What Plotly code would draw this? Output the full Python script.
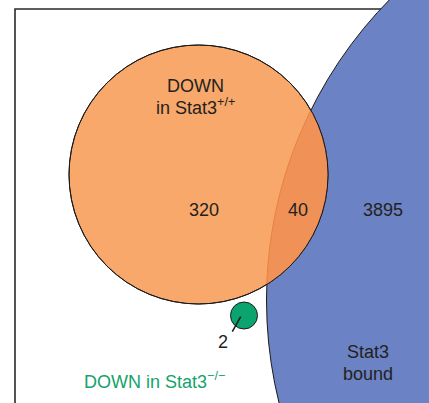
import numpy as np
import plotly.graph_objects as go

# ---- data (gene counts) ----
set_names = ["DOWN in Stat3+/+", "Stat3 bound", "DOWN in Stat3-/-"]
only_down = 320          # DOWN in Stat3+/+ only
overlap = 40             # DOWN in Stat3+/+ and Stat3 bound
bound_only = 3895        # Stat3 bound only
down_ko = 2              # DOWN in Stat3-/-

down_total = only_down + overlap
bound_total = bound_only + overlap

# ---- layout (pixel space) ----
W, H = 429, 403
scale = 129.5 / np.sqrt(down_total)          # area-proportional radius scale
r_o = scale * np.sqrt(down_total)
r_b = scale * np.sqrt(bound_total)
r_g = 13.5
c_o = (198.5, 174.5)
c_b = (266.5 + r_b, 300.0)
c_g = (244.0, 315.5)

ORANGE = "#F8A86A"
LENS = "#F09258"
BLUE = "#6B83C4"
GREEN = "#0BA36E"
TXT = "#231F20"
FONT = "Liberation Sans, Arial, Helvetica, sans-serif"


def arc(c, r, a0, a1, n=120):
    t = np.linspace(a0, a1, n)
    return c[0] + r * np.cos(t), c[1] + r * np.sin(t)


# intersection geometry
dx, dy = c_b[0] - c_o[0], c_b[1] - c_o[1]
d = np.hypot(dx, dy)
a1 = (r_o**2 - r_b**2 + d**2) / (2 * d)
al_o = np.arccos(a1 / r_o)
al_b = np.arccos((d - a1) / r_b)
phi_o = np.arctan2(dy, dx)
phi_b = np.arctan2(-dy, -dx)
xo, yo = arc(c_o, r_o, phi_o - al_o, phi_o + al_o)
xb, yb = arc(c_b, r_b, phi_b - al_b, phi_b + al_b)
lens_x = np.concatenate([xo, xb])
lens_y = np.concatenate([yo, yb])
lens_path = "M " + " L ".join(f"{x:.2f},{y:.2f}" for x, y in zip(lens_x, lens_y)) + " Z"
inner_path = "M " + " L ".join(f"{x:.2f},{y:.2f}" for x, y in zip(xb, yb))


def circ(c, r, fill, lw=1.0, lc="#1a1a1a"):
    return dict(type="circle", xref="x", yref="y",
                x0=c[0] - r, x1=c[0] + r, y0=c[1] - r, y1=c[1] + r,
                fillcolor=fill, line=dict(color=lc, width=lw), layer="above")


shapes = [
    dict(type="rect", xref="x", yref="y", x0=15, y0=9, x1=600, y1=600,
         line=dict(color="#2a2a2a", width=1.6), fillcolor="rgba(0,0,0,0)", layer="above"),
    circ(c_b, r_b, BLUE),
    circ(c_o, r_o, ORANGE),
    dict(type="path", xref="x", yref="y", path=lens_path, fillcolor=LENS,
         line=dict(width=0), layer="above"),
    dict(type="path", xref="x", yref="y", path=inner_path,
         line=dict(color="#E7813C", width=1), layer="above"),
    circ(c_o, r_o, "rgba(0,0,0,0)"),
    circ(c_g, r_g, GREEN),
    dict(type="line", xref="x", yref="y", x0=232.3, y0=331.7, x1=240.7, y1=316.7,
         line=dict(color="#1a1a1a", width=1.5), layer="above"),
]


def lab(x, y, text, color=TXT, size=18):
    return dict(x=x, y=y, xref="x", yref="y", text=text, showarrow=False,
                font=dict(family=FONT, size=size, color=color),
                xanchor="center", yanchor="middle")


annotations = [
    lab(195, 85.5, "DOWN"),
    lab(195, 106, "in Stat3<sup>+/+</sup>"),
    lab(204, 210, str(only_down)),
    lab(297.5, 210, str(overlap)),
    lab(383, 210, str(bound_only)),
    lab(223.3, 341.7, str(down_ko)),
    lab(367.5, 352, "Stat3"),
    lab(367.5, 373.5, "bound"),
    lab(154.7, 380, "DOWN in Stat3<sup>\u2212/\u2212</sup>", color="#14A36C"),
]

fig = go.Figure()
fig.add_trace(go.Scatter(x=[0, W], y=[0, H], mode="markers",
                         marker=dict(opacity=0), hoverinfo="skip", showlegend=False))
fig.update_layout(
    width=W, height=H, margin=dict(l=0, r=0, t=0, b=0),
    paper_bgcolor="white", plot_bgcolor="white",
    xaxis=dict(range=[0, W], visible=False, fixedrange=True),
    yaxis=dict(range=[H, 0], visible=False, fixedrange=True),
    shapes=shapes, annotations=annotations, showlegend=False,
)
fig.write_html("out.html")
